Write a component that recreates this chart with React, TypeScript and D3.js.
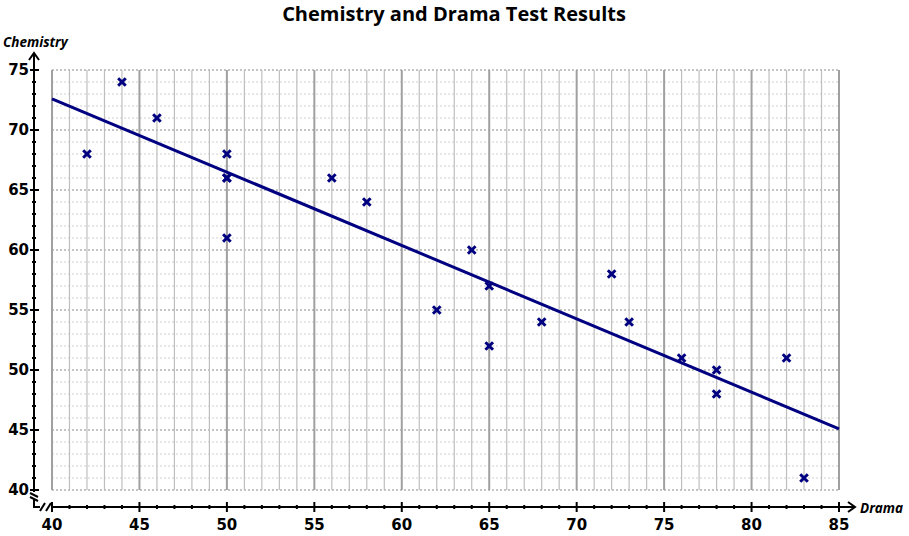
import React, { useEffect, useRef } from 'react';
import * as d3 from 'd3';

// Scatter points (Drama score, Chemistry score)
const dramaScores = [42, 44, 46, 50, 50, 50, 50, 56, 58, 62, 64, 65, 65, 68, 72, 73, 76, 78, 78, 82, 83];
const chemistryScores = [68, 74, 71, 68, 66, 66, 61, 66, 64, 55, 60, 57, 52, 54, 58, 54, 51, 50, 48, 51, 41];

// Trend line, at the ends of the x range
const trendX = [40, 85];
const trendY = [72.6, 45.1];

const xTicks = [40, 45, 50, 55, 60, 65, 70, 75, 80, 85];
const yTicks = [40, 45, 50, 55, 60, 65, 70, 75];

const NAVY = '#000080';

const App: React.FC = () => {
  const svgRef = useRef<SVGSVGElement>(null);

  useEffect(() => {
    document.body.style.margin = '0';
    if (!svgRef.current) return;

    const svg = d3.select(svgRef.current);
    svg.selectAll('*').remove();

    const xScale = d3.scaleLinear().domain([40, 85]).range([52, 839]);
    const yScale = d3.scaleLinear().domain([40, 75]).range([490, 70]);

    const axisX = 34; // y axis position
    const axisY = 507; // x axis position

    const grid = svg.append('g');

    // horizontal dotted grid lines, one per unit
    d3.range(40, 76).forEach((v) => {
      const major = v % 5 === 0;
      grid.append('line')
        .attr('x1', xScale(40))
        .attr('x2', xScale(85))
        .attr('y1', yScale(v))
        .attr('y2', yScale(v))
        .attr('stroke', major ? '#c4c4c4' : '#d0d0d0')
        .attr('stroke-width', major ? 2 : 1)
        .attr('stroke-dasharray', '2,2');
    });

    // vertical solid grid lines, one per unit
    d3.range(40, 86).forEach((v) => {
      const major = v % 5 === 0;
      grid.append('line')
        .attr('x1', xScale(v))
        .attr('x2', xScale(v))
        .attr('y1', yScale(75))
        .attr('y2', yScale(40))
        .attr('stroke', major ? '#a0a0a0' : '#bebebe')
        .attr('stroke-width', major ? 2 : 1.2);
    });

    // Axes
    const axes = svg.append('g').attr('stroke', '#000').attr('fill', 'none');

    // y axis with break near the bottom
    axes.append('line').attr('x1', axisX).attr('x2', axisX).attr('y1', 54).attr('y2', 492).attr('stroke-width', 2);
    axes.append('line').attr('x1', axisX).attr('x2', axisX).attr('y1', 500).attr('y2', axisY + 1).attr('stroke-width', 2);
    axes.append('path').attr('d', `M${axisX - 4},${493} L${axisX + 4},${497}`).attr('stroke-width', 2);
    axes.append('path').attr('d', `M${axisX - 4},${497} L${axisX + 4},${501}`).attr('stroke-width', 2);
    // arrow
    axes.append('path')
      .attr('d', `M${axisX - 5},${60} L${axisX},${53} L${axisX + 5},${60}`)
      .attr('stroke-width', 2);

    // x axis with break near the start
    axes.append('line').attr('x1', axisX - 1).attr('x2', 40).attr('y1', axisY).attr('y2', axisY).attr('stroke-width', 2);
    axes.append('line').attr('x1', 52).attr('x2', 854).attr('y1', axisY).attr('y2', axisY).attr('stroke-width', 2);
    axes.append('path').attr('d', `M${40},${axisY + 4} L${45},${axisY - 4}`).attr('stroke-width', 2);
    axes.append('path').attr('d', `M${46},${axisY + 4} L${51},${axisY - 4}`).attr('stroke-width', 2);
    axes.append('path')
      .attr('d', `M${848},${axisY - 5} L${855},${axisY} L${848},${axisY + 5}`)
      .attr('stroke-width', 2);

    // y ticks
    d3.range(40, 76).forEach((v) => {
      const major = v % 5 === 0;
      axes.append('line')
        .attr('x1', major ? axisX - 4 : axisX - 2)
        .attr('x2', major ? axisX + 5 : axisX + 2)
        .attr('y1', yScale(v))
        .attr('y2', yScale(v))
        .attr('stroke-width', 2);
    });

    // x ticks
    d3.range(40, 86).forEach((v) => {
      const major = v % 5 === 0;
      axes.append('line')
        .attr('x1', xScale(v))
        .attr('x2', xScale(v))
        .attr('y1', major ? axisY - 5 : axisY - 2)
        .attr('y2', major ? axisY + 5 : axisY + 2)
        .attr('stroke-width', 2);
    });

    const labelFont = '"DejaVu Sans", Verdana, sans-serif';

    svg.append('g')
      .selectAll('text')
      .data(yTicks)
      .enter()
      .append('text')
      .attr('x', 29)
      .attr('y', (d) => yScale(d))
      .attr('dy', '0.36em')
      .attr('text-anchor', 'end')
      .attr('font-family', labelFont)
      .attr('font-weight', 'bold')
      .attr('font-size', 15)
      .attr('fill', '#000')
      .text((d) => d);

    svg.append('g')
      .selectAll('text')
      .data(xTicks)
      .enter()
      .append('text')
      .attr('x', (d) => xScale(d))
      .attr('y', 530)
      .attr('text-anchor', 'middle')
      .attr('font-family', labelFont)
      .attr('font-weight', 'bold')
      .attr('font-size', 15)
      .attr('fill', '#000')
      .text((d) => d);

    // axis titles
    svg.append('text')
      .attr('x', 3)
      .attr('y', 47)
      .attr('font-family', '"Open Sans", "Noto Sans", sans-serif')
      .attr('font-weight', 'bold')
      .attr('font-style', 'italic')
      .attr('font-size', 13.5)
      .attr('fill', '#000')
      .text('Chemistry');

    svg.append('text')
      .attr('x', 860)
      .attr('y', 513)
      .attr('font-family', '"Open Sans", "Noto Sans", sans-serif')
      .attr('font-weight', 'bold')
      .attr('font-style', 'italic')
      .attr('font-size', 13.5)
      .attr('fill', '#000')
      .text('Drama');

    // title
    svg.append('text')
      .attr('x', 454)
      .attr('y', 21)
      .attr('text-anchor', 'middle')
      .attr('font-family', '"Open Sans", "Noto Sans", sans-serif')
      .attr('font-weight', 'bold')
      .attr('font-size', 20)
      .attr('fill', '#000')
      .text('Chemistry and Drama Test Results');

    // trend line
    const line = d3.line<number>()
      .x((_, i) => xScale(trendX[i]))
      .y((d) => yScale(d));

    svg.append('path')
      .datum(trendY)
      .attr('d', line)
      .attr('fill', 'none')
      .attr('stroke', NAVY)
      .attr('stroke-width', 3);

    // markers
    const s = 3.8;
    const pts = svg.append('g');
    dramaScores.forEach((dx, i) => {
      const cx = xScale(dx);
      const cy = yScale(chemistryScores[i]);
      pts.append('path')
        .attr('d', `M${cx - s},${cy - s}L${cx + s},${cy + s}M${cx - s},${cy + s}L${cx + s},${cy - s}`)
        .attr('stroke', NAVY)
        .attr('stroke-width', 3)
        .attr('fill', 'none');
    });
  }, []);

  return <svg ref={svgRef} width={909} height={536} style={{ display: 'block', background: '#fff' }} />;
};

export default App;
